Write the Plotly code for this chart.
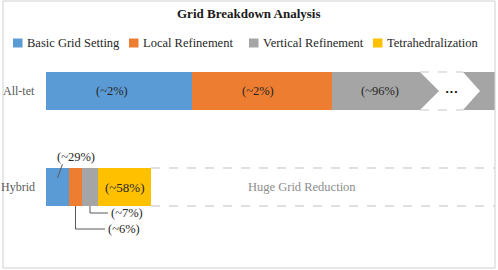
import plotly.graph_objects as go

# ---------------- data ----------------
categories = ["All-tet", "Hybrid"]
series_names = ["Basic Grid Setting", "Local Refinement", "Vertical Refinement", "Tetrahedralization"]
series_colors = ["#5B9BD5", "#ED7D31", "#A5A5A5", "#FFC000"]
# displayed (schematic) segment lengths, per series: [All-tet, Hybrid]
basic_len = [146, 23]
local_len = [140, 13]
vertical_len = [163, 16]
tetra_len = [0, 53]
alltet_labels = ["(~2%)", "(~2%)", "(~96%)"]
hybrid_labels = ["(~29%)", "(~6%)", "(~7%)", "(~58%)"]
reduction_text = "Huge Grid Reduction"
title_text = "Grid Breakdown Analysis"

FONT = "Liberation Serif"
W, H = 498, 270
ML, MR, MT, MB = 46, 3, 43, 35
XMAX = 449
y_pos = {"All-tet": 1, "Hybrid": 0}
BW = 0.396  # bar thickness (category units)
half = BW / 2
pw = W - ML - MR
ph = H - MT - MB

def py(px):
    """pixel row -> y data value"""
    return 1.5 - (px - MT) / (ph / 2.0)

def pxp(px):
    return (px - ML) / pw

def pyp(pyx):
    return (H - MB - pyx) / ph

fig = go.Figure()
series_vals = [basic_len, local_len, vertical_len, tetra_len]
for name, col, vals in zip(series_names, series_colors, series_vals):
    fig.add_trace(go.Bar(
        name=name, orientation="h",
        x=vals, y=[y_pos[c] for c in categories],
        marker=dict(color=col, line=dict(width=0)),
        width=BW, hoverinfo="skip", showlegend=False,
    ))

# cumulative positions
def cum(idx):
    out, s = [], 0
    for v in series_vals:
        out.append((s, s + v[idx]))
        s += v[idx]
    return out

at = cum(0)
hy = cum(1)
hy_total = hy[3][1]

shapes = []
annotations = []
dark = "#262626"

# legend (drawn manually)
legend_x = [13, 129, 249, 373]
leg_y = 43
for lx, name, col in zip(legend_x, series_names, series_colors):
    shapes.append(dict(type="rect", xref="paper", yref="paper",
                       x0=pxp(lx), x1=pxp(lx + 9.5), y0=pyp(leg_y + 4.5), y1=pyp(leg_y - 4.5),
                       fillcolor=col, line=dict(width=0)))
    annotations.append(dict(x=pxp(lx + 11.5), y=pyp(leg_y), xref="paper", yref="paper", text=name,
                            xanchor="left", yanchor="middle", showarrow=False,
                            font=dict(family=FONT, size=12.5, color="#262626")))

# break marker on the All-tet gray segment
brk_l = at[2][0] + 88
brk_depth = 19
brk_w = 43
brk_tip = 17
yt, yb, ym = 1 + half, 1 - half, 1
path = (f"M {brk_l},{yt} L {brk_l+brk_w},{yt} L {brk_l+brk_w+brk_tip},{ym} "
        f"L {brk_l+brk_w},{yb} L {brk_l},{yb} L {brk_l+brk_depth},{ym} Z")
shapes.append(dict(type="path", path=path, xref="x", yref="y",
                   fillcolor="white", line=dict(width=0), layer="above"))
for yy in (yt, yb):
    shapes.append(dict(type="line", x0=brk_l, x1=brk_l + brk_w, y0=yy, y1=yy,
                       xref="x", yref="y", line=dict(color="#c8c8c8", width=1, dash="dash"),
                       layer="above"))
annotations.append(dict(x=brk_l + brk_w / 2 + 10, y=ym, xref="x", yref="y", text="<b>···</b>",
                        showarrow=False, font=dict(family=FONT, size=13, color="#000000")))

# All-tet labels
at_centers = [(at[0][0] + at[0][1]) / 2 - 7, (at[1][0] + at[1][1]) / 2 - 4,
              (at[2][0] + brk_l) / 2 + 4]
for cx, lab in zip(at_centers, alltet_labels):
    annotations.append(dict(x=cx, y=1, xref="x", yref="y", text=lab, showarrow=False,
                            font=dict(family=FONT, size=12.5, color=dark)))

# Hybrid reduction region (dashed)
for yy in (half, -half):
    shapes.append(dict(type="line", x0=hy_total, x1=XMAX, y0=yy, y1=yy, xref="x", yref="y",
                       line=dict(color="#c0c0c0", width=1, dash="dash")))
annotations.append(dict(x=256, y=0, xref="x", yref="y", text=reduction_text, showarrow=False,
                        font=dict(family=FONT, size=12.5, color="#8c8c8c")))

# Hybrid labels
lead = "#595959"
bx = (hy[0][0] + hy[0][1]) / 2
shapes.append(dict(type="line", x0=bx, y0=py(178), x1=bx + 5, y1=py(164), xref="x", yref="y",
                   line=dict(color=lead, width=1)))
annotations.append(dict(x=bx + 18, y=py(157), xref="x", yref="y", text=hybrid_labels[0],
                        showarrow=False, font=dict(family=FONT, size=12.5, color=dark)))
for seg, lab, ypx, xend in ((hy[1], hybrid_labels[1], 229, 59), (hy[2], hybrid_labels[2], 213, 62)):
    cx = (seg[0] + seg[1]) / 2
    yy = py(ypx)
    shapes.append(dict(type="path", path=f"M {cx},{-half} L {cx},{yy} L {xend},{yy}",
                       xref="x", yref="y", line=dict(color=lead, width=1)))
    annotations.append(dict(x=xend + 1, y=yy, xref="x", yref="y", text=lab, xanchor="left",
                            showarrow=False, font=dict(family=FONT, size=12.5, color=dark)))
annotations.append(dict(x=(hy[3][0] + hy[3][1]) / 2, y=0, xref="x", yref="y", text=hybrid_labels[3],
                        showarrow=False, font=dict(family=FONT, size=13, color=dark)))

# y category labels
for c in categories:
    annotations.append(dict(x=pxp(37), y=y_pos[c], xref="paper", yref="y", text=c,
                            xanchor="right", showarrow=False,
                            font=dict(family=FONT, size=12, color="#595959")))

# title
annotations.append(dict(x=pxp(249), y=pyp(13), xref="paper", yref="paper",
                        text=f"<b>{title_text}</b>", showarrow=False, xanchor="center", yanchor="middle",
                        font=dict(family=FONT, size=13, color="#1a1a1a")))

# outer border
shapes.append(dict(type="rect", xref="paper", yref="paper",
                   x0=pxp(3), x1=pxp(495), y0=pyp(268), y1=pyp(1),
                   line=dict(color="#d0d0d0", width=1), fillcolor="rgba(0,0,0,0)"))

fig.update_layout(
    width=W, height=H,
    margin=dict(l=ML, r=MR, t=MT, b=MB, autoexpand=False),
    barmode="stack",
    paper_bgcolor="white", plot_bgcolor="white",
    showlegend=False,
    xaxis=dict(visible=False, range=[0, XMAX], fixedrange=True),
    yaxis=dict(range=[-0.5, 1.5], showticklabels=False, automargin=False,
               showgrid=False, zeroline=False, showline=False, ticks=""),
    shapes=shapes, annotations=annotations,
)

fig.write_html("out.html", config={"displayModeBar": False, "staticPlot": True},
               post_script="document.body.style.margin='0';document.body.style.padding='0';")
